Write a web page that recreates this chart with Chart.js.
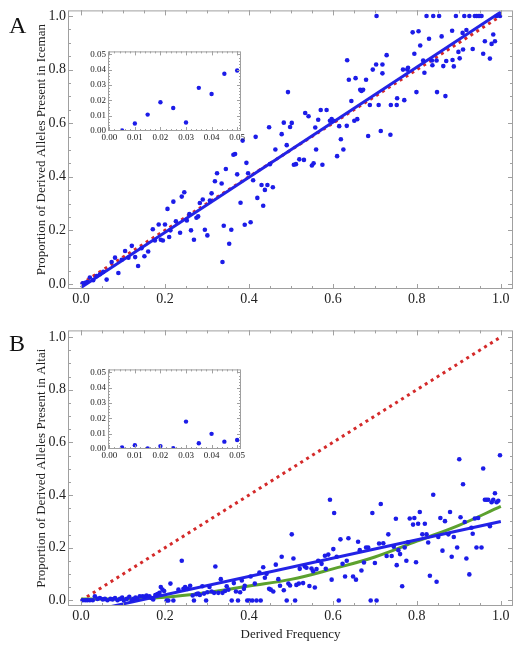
<!DOCTYPE html>
<html>
<head>
<meta charset="utf-8">
<script src="https://cdn.jsdelivr.net/npm/chart.js@4"></script>
<style>
  body { margin: 0; background: #fff; }
  #wrap { position: relative; width: 532px; height: 650px; }
  canvas { position: absolute; }
  .tag { position: absolute; font-family: 'Liberation Serif', serif; font-size: 24px; color: #111; }
</style>
</head>
<body>
<div id="wrap">
  <canvas id="mainA" width="532" height="315" style="left:0;top:0"></canvas>
  <canvas id="mainB" width="532" height="330" style="left:0;top:320px"></canvas>
  <canvas id="insetA" width="172" height="104" style="left:78px;top:44px"></canvas>
  <canvas id="insetB" width="172" height="104" style="left:78px;top:362px"></canvas>
  <div class="tag" style="left:9px;top:12px">A</div>
  <div class="tag" style="left:9px;top:330px">B</div>
</div>
<script>
// --- data ---
const icemanX = [0.704,0.823,0.839,0.853,0.893,0.913,0.925,0.938,0.942,0.946,0.950,0.954,0.990,0.998,
  0.790,0.804,0.829,0.859,0.884,0.909,0.918,0.982,0.808,0.794,0.836,0.815,0.847,0.870,0.885,0.902,0.910,0.899,0.933,0.986,0.962,0.958,0.974,0.978,
  0.837,0.818,0.863,0.888,0.848,0.868,0.799,0.767,0.777,0.779,0.770,0.752,0.753,0.718,0.728,0.703,0.718,0.695,0.679,0.654,0.638,0.634,
  0.665,0.668,0.672,0.644,0.688,0.709,0.738,0.714,0.737,0.684,0.658,0.651,0.633,0.625,0.619,0.615,0.610,0.597,0.601,0.593,0.585,0.571,
  0.565,0.560,0.558,0.575,0.554,0.550,0.542,0.534,0.531,0.520,0.512,0.507,0.502,0.498,0.490,0.483,0.478,0.493,0.463,0.457,0.448,0.450,
  0.444,0.438,0.430,0.434,0.420,0.416,0.410,0.404,0.398,0.394,0.390,0.385,0.380,0.372,0.367,0.363,0.358,0.353,0.345,0.340,0.337,0.335,
  0.324,0.319,0.311,0.307,0.301,0.295,0.290,0.283,0.279,0.275,0.269,0.262,0.258,0.252,0.246,0.240,0.236,0.226,0.220,0.213,0.210,0.206,
  0.200,0.195,0.190,0.185,0.176,0.171,0.160,0.151,0.144,0.136,0.129,0.121,0.113,0.105,0.097,0.089,0.081,0.073,0.061,0.053,0.045,0.037,
  0.029,0.021,0.015,0.010,0.004];
const icemanY = [1,1,1,1,1,1,1,1,1,1,1,1,1,1,
  0.939,0.943,0.915,0.924,0.945,0.937,0.948,0.931,0.890,0.859,0.834,0.834,0.834,0.832,0.836,0.842,0.875,0.866,0.877,0.906,0.906,0.859,0.841,0.896,
  0.816,0.788,0.813,0.812,0.716,0.701,0.716,0.800,0.800,0.807,0.686,0.668,0.693,0.786,0.854,0.819,0.819,0.800,0.762,0.768,0.762,0.835,
  0.725,0.720,0.725,0.683,0.668,0.668,0.668,0.571,0.557,0.552,0.615,0.609,0.590,0.502,0.540,0.589,0.477,0.615,0.609,0.609,0.649,0.649,
  0.613,0.502,0.584,0.445,0.450,0.442,0.626,0.638,0.463,0.465,0.447,0.445,0.601,0.586,0.518,0.602,0.559,0.716,0.502,0.361,0.585,0.447,
  0.369,0.351,0.369,0.292,0.321,0.549,0.387,0.230,0.413,0.452,0.221,0.535,0.303,0.409,0.485,0.482,0.202,0.150,0.429,0.217,0.082,0.375,
  0.413,0.383,0.338,0.311,0.181,0.202,0.315,0.302,0.252,0.247,0.165,0.200,0.261,0.237,0.342,0.326,0.191,0.234,0.307,0.200,0.175,0.280,
  0.222,0.162,0.165,0.222,0.162,0.204,0.121,0.103,0.133,0.067,0.100,0.142,0.098,0.123,0.090,0.041,0.098,0.082,0.016,0.045,0.036,0.029,
  0.014,0.024,0.007,0.004,0.002];

const altaiX = [0.004,0.010,0.015,0.021,0.028,0.033,0.039,0.045,0.052,0.057,0.063,0.070,0.075,0.081,0.087,0.093,0.098,0.102,0.109,0.115,
  0.121,0.125,0.130,0.134,0.140,0.147,0.152,0.156,0.163,0.168,0.172,0.177,0.182,0.187,0.190,0.194,0.198,0.204,0.208,0.213,0.220,0.232,
  0.240,0.244,0.248,0.254,0.260,0.266,0.269,0.275,0.279,0.283,0.289,0.293,0.298,0.301,0.306,0.311,0.317,0.320,0.327,0.333,0.337,0.343,
  0.347,0.351,0.359,0.364,0.369,0.374,0.379,0.383,0.388,0.390,0.396,0.401,0.404,0.408,0.414,0.418,0.425,0.428,0.434,0.438,0.442,0.448,
  0.452,0.458,0.464,0.470,0.474,0.478,0.483,0.490,0.494,0.498,0.502,0.506,0.510,0.513,0.519,0.521,0.529,0.533,0.537,0.544,0.549,0.553,
  0.557,0.561,0.565,0.573,0.581,0.583,0.589,0.593,0.597,0.601,0.603,0.609,0.614,0.618,0.623,0.629,0.633,0.637,0.648,0.655,0.660,0.664,
  0.668,0.674,0.679,0.684,0.690,0.694,0.700,0.704,0.710,0.714,0.720,0.728,0.732,0.740,0.745,0.750,0.752,0.756,0.760,0.765,0.771,0.775,
  0.779,0.783,0.791,0.794,0.798,0.803,0.807,0.813,0.819,0.823,0.827,0.831,0.839,0.847,0.851,0.856,0.861,0.867,0.875,0.879,0.883,0.888,
  0.896,0.901,0.904,0.910,0.914,0.918,0.925,0.930,0.933,0.938,0.942,0.946,0.954,0.958,0.962,0.966,0.970,0.974,0.978,0.982,0.986,0.990,
  0.994,0.998];
const altaiY = [0.001,0.001,0.001,0.001,0.001,0.016,0.006,0.009,0.004,0.006,0.001,0.006,0.004,0.009,0.001,0.006,0.011,0.001,0.006,0.014,
  0.001,0.006,0.011,0.006,0.016,0.016,0.014,0.019,0.016,0.009,0.004,0.021,0.024,0.029,0.051,0.041,0.036,0,0,0.064,0,0.041,
  0.151,0.044,0.051,0.044,0.056,0.019,0,0.024,0.026,0.021,0.054,0.026,0,0.031,0.051,0.034,0.029,0.129,0.029,0.081,0.029,0.036,
  0.054,0.041,0,0.066,0.034,0,0.031,0.076,0.044,0.056,0,0,0.091,0,0.064,0,0.106,0,0.126,0.086,0.101,0.044,
  0.041,0.034,0.136,0.081,0.056,0.166,0.039,0,0.064,0.057,0.251,0.159,0,0.059,0.064,0.120,0.066,0.129,0.124,0.055,0.121,0.111,
  0.049,0.119,0.151,0.139,0.170,0.120,0.174,0.382,0.079,0.195,0.332,0.166,0,0.232,0.139,0.091,0.151,0.236,0.091,0.079,0.223,0.191,
  0.114,0.144,0.201,0.201,0,0.332,0.142,0,0.216,0.366,0.217,0.169,0.251,0.169,0.204,0.310,0.134,0.191,0.176,0.054,0.201,0.151,
  0.221,0.311,0.288,0.313,0.145,0.291,0.336,0.251,0.291,0.251,0.220,0.094,0.401,0.071,0.241,0.313,0.189,0.301,0.251,0.336,0.166,0.241,
  0.201,0.536,0.316,0.441,0.298,0.159,0.099,0.276,0.253,0.311,0.201,0.313,0.201,0.501,0.382,0.382,0.382,0.282,0.373,0.382,0.407,0.373,
  0.378,0.551];

// fitted curves, read at a few x positions
const lineX = [0, 1];
const icemanFitY = [-0.013, 1.015];
const altaiFitY = [-0.048, 0.300];
const identityY = [0, 1];
const curveX = [0, 0.1, 0.2, 0.3, 0.4, 0.5, 0.6, 0.7, 0.8, 0.9, 1.0];
const altaiCurveY = [0.006, 0.006, 0.012, 0.030, 0.055, 0.080, 0.120, 0.165, 0.225, 0.285, 0.357];

// insets: lowest frequency bins
const insetX = [0.005, 0.010, 0.015, 0.020, 0.025, 0.030, 0.035, 0.040, 0.045, 0.050];
const icemanInsetY = [0.0004, 0.0049, 0.0107, 0.0188, 0.0150, 0.0056, 0.0282, 0.0242, 0.0374, 0.0395];
const altaiInsetY = [0.0010, 0.0025, 0.0004, 0.0019, 0.0006, 0.0179, 0.0038, 0.0099, 0.0048, 0.0059];

const mainTicks = [0, 0.2, 0.4, 0.6, 0.8, 1.0];
const insetTicks = [0, 0.01, 0.02, 0.03, 0.04, 0.05];

const SERIF = "'Liberation Serif', 'Times New Roman', serif";
const DOT = '#1c1ce8';
const BLUE = '#2323e6';
const RED = '#d42a2a';
const GREEN = '#5ca12e';

const pts = (xs, ys) => xs.map((x, i) => ({ x, y: ys[i] }));

function minorTicks(lo, hi, step) {
  const out = [];
  for (let v = lo; v <= hi + 1e-9; v += step) out.push(v);
  return out;
}

// Mathematica-style frame with inward ticks on all four sides
const framePlugin = {
  id: 'frame',
  beforeDatasetsDraw(chart, args, opts) {
    if (!opts.fill) return;
    const a = chart.chartArea;
    chart.ctx.save();
    chart.ctx.fillStyle = '#fff';
    chart.ctx.fillRect(a.left, a.top, a.width, a.height);
    chart.ctx.restore();
  },
  afterDatasetsDraw(chart, args, opts) {
    const { ctx, chartArea: a, scales: { x, y } } = chart;
    ctx.save();
    ctx.strokeStyle = '#a0a0a0';
    ctx.lineWidth = 1;
    ctx.strokeRect(a.left + 0.5, a.top + 0.5, a.width - 1, a.height - 1);
    const mark = (vals, len) => {
      ctx.beginPath();
      vals.forEach(v => {
        const px = Math.round(x.getPixelForValue(v)) + 0.5;
        if (px > a.left && px < a.right) {
          ctx.moveTo(px, a.bottom); ctx.lineTo(px, a.bottom - len);
          ctx.moveTo(px, a.top); ctx.lineTo(px, a.top + len);
        }
        const py = Math.round(y.getPixelForValue(v)) + 0.5;
        if (py > a.top && py < a.bottom) {
          ctx.moveTo(a.left, py); ctx.lineTo(a.left + len, py);
          ctx.moveTo(a.right, py); ctx.lineTo(a.right - len, py);
        }
      });
      ctx.stroke();
    };
    mark(opts.minor, opts.minorLen);
    mark(opts.major, opts.majorLen);
    ctx.restore();
  }
};

function mainChart(id, xs, ys, lines, range, yTitle, xTitle, geom) {
  return new Chart(document.getElementById(id), {
    type: 'scatter',
    data: {
      datasets: [
        { data: pts(xs, ys), pointRadius: 2.3, pointBackgroundColor: DOT, pointBorderWidth: 0 },
        ...lines
      ]
    },
    options: {
      responsive: false,
      animation: false,
      layout: { padding: { top: geom.top, right: 19, left: 0, bottom: 0 } },
      scales: {
        x: {
          type: 'linear', min: range.x[0], max: range.x[1],
          afterBuildTicks: s => { s.ticks = mainTicks.map(v => ({ value: v })); },
          afterFit: s => { s.height = geom.xh; },
          ticks: { callback: v => v.toFixed(1), font: { family: SERIF, size: 14 }, color: '#222', padding: 2, autoSkip: false, maxRotation: 0 },
          grid: { display: false, drawTicks: false },
          border: { display: false },
          title: { display: !!xTitle, text: xTitle, font: { family: SERIF, size: 13 }, color: '#222', padding: { top: 0, bottom: 8 } }
        },
        y: {
          type: 'linear', min: range.y[0], max: range.y[1],
          afterBuildTicks: s => { s.ticks = mainTicks.map(v => ({ value: v })); },
          afterFit: s => { s.width = 68; },
          ticks: { callback: v => v.toFixed(1), font: { family: SERIF, size: 14 }, color: '#222', padding: 2, autoSkip: false },
          grid: { display: false, drawTicks: false },
          border: { display: false },
          title: { display: true, text: yTitle, font: { family: SERIF, size: 13 }, color: '#222', padding: { top: 34, bottom: 0 } }
        }
      },
      plugins: {
        legend: { display: false },
        tooltip: { enabled: false },
        frame: { major: mainTicks, minor: minorTicks(0, 1, 0.05), majorLen: 5, minorLen: 3 }
      }
    },
    plugins: [framePlugin]
  });
}

function lineSet(ys, xs, color, width, dash, tension) {
  return {
    type: 'line', data: pts(xs, ys), borderColor: color, borderWidth: width,
    borderDash: dash || [], pointRadius: 0, tension: tension || 0, fill: false
  };
}

mainChart('mainA', icemanX, icemanY, [
  lineSet(icemanFitY, lineX, BLUE, 3),
  lineSet(identityY, lineX, RED, 3, [3, 4])
], { x: [-0.031, 1.029], y: [-0.019, 1.021] },
  'Proportion of Derived Alleles Present in Iceman', '', { top: 9, xh: 26 });

mainChart('mainB', altaiX, altaiY, [
  lineSet(altaiFitY, lineX, BLUE, 3),
  lineSet(altaiCurveY, curveX, GREEN, 3, null, 0.4),
  lineSet(identityY, lineX, RED, 3, [3, 4])
], { x: [-0.031, 1.029], y: [-0.021, 1.025] },
  'Proportion of Derived Alleles Present in Altai', 'Derived Frequency', { top: 7, xh: 44 });

function insetChart(id, ys) {
  return new Chart(document.getElementById(id), {
    type: 'scatter',
    data: { datasets: [{ data: pts(insetX, ys), pointRadius: 2.2, pointBackgroundColor: DOT, pointBorderWidth: 0 }] },
    options: {
      responsive: false,
      animation: false,
      layout: { padding: { top: 5, right: 9, left: 0, bottom: 0 } },
      scales: {
        x: {
          type: 'linear', min: -0.0005, max: 0.0515,
          afterBuildTicks: s => { s.ticks = insetTicks.map(v => ({ value: v })); },
          afterFit: s => { s.height = 17; },
          ticks: { callback: v => v.toFixed(2), font: { family: SERIF, size: 9 }, color: '#222', padding: 1, autoSkip: false, maxRotation: 0 },
          grid: { display: false, drawTicks: false }, border: { display: false }
        },
        y: {
          type: 'linear', min: 0, max: 0.052,
          afterBuildTicks: s => { s.ticks = insetTicks.map(v => ({ value: v })); },
          afterFit: s => { s.width = 30; },
          ticks: { callback: v => v.toFixed(2), font: { family: SERIF, size: 9 }, color: '#222', padding: 2, autoSkip: false },
          grid: { display: false, drawTicks: false }, border: { display: false }
        }
      },
      plugins: {
        legend: { display: false },
        tooltip: { enabled: false },
        frame: { fill: true, major: insetTicks, minor: minorTicks(0, 0.05, 0.002), majorLen: 4, minorLen: 2 }
      }
    },
    plugins: [framePlugin]
  });
}

insetChart('insetA', icemanInsetY);
insetChart('insetB', altaiInsetY);
</script>
</body>
</html>
